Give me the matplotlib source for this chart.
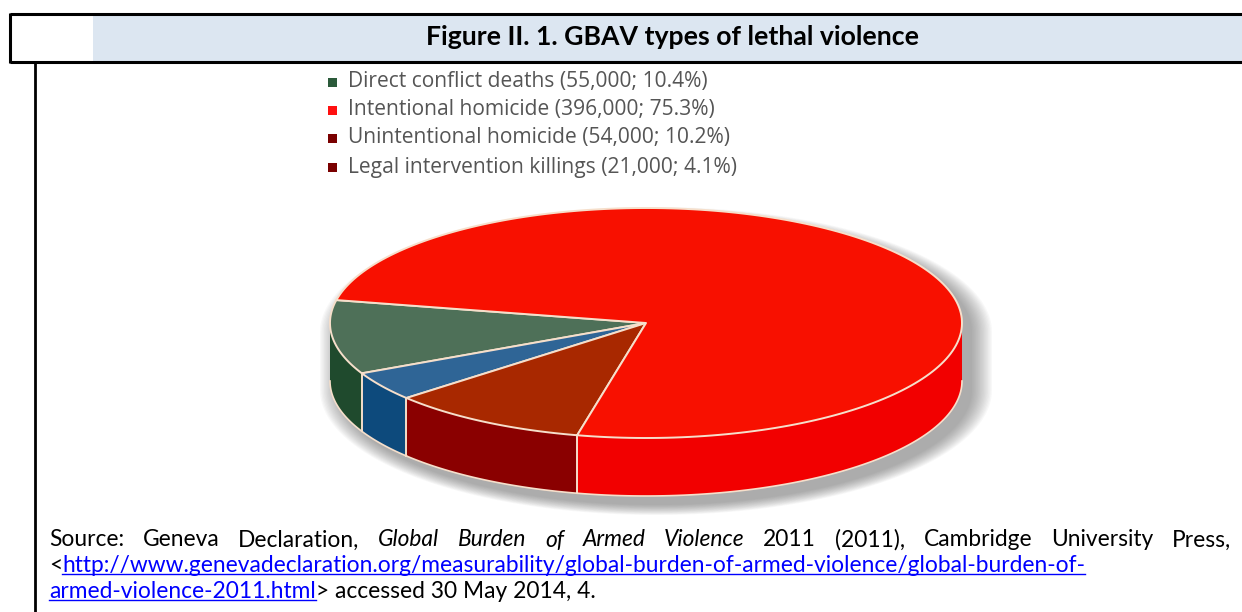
import numpy as np
import matplotlib
matplotlib.use("Agg")
import matplotlib.pyplot as plt
from matplotlib.patches import Polygon, Rectangle

# ---------------- data ----------------
title = "Figure II. 1. GBAV types of lethal violence"
categories = ["Direct conflict deaths", "Intentional homicide",
              "Unintentional homicide", "Legal intervention killings"]
deaths = [55000, 396000, 54000, 21000]
shares = [10.4, 75.3, 10.2, 4.1]
legend_colors = ["#2b5a3a", "#ff1010", "#7a0000", "#7a0000"]
top_colors = ["#4e7058", "#f81000", "#a82800", "#2f6596"]
side_colors = ["#1f4a2d", "#f20000", "#8a0000", "#0d4a7c"]
pie_order = [0, 3, 2, 1]          # counter-clockwise order on the pie
start_angle = 168.5

source_line1 = [("Source:", "normal"), ("Geneva", "normal"), ("Declaration,", "normal"),
                ("Global", "italic"), ("Burden", "italic"), ("of", "italic"),
                ("Armed", "italic"), ("Violence", "italic"), ("2011", "normal"),
                ("(2011),", "normal"), ("Cambridge", "normal"), ("University", "normal"),
                ("Press,", "normal")]
link1 = "http://www.genevadeclaration.org/measurability/global-burden-of-armed-violence/global-burden-of-"
link2 = "armed-violence-2011.html"
tail = "> accessed 30 May 2014, 4."

# ---------------- figure ----------------
W, H = 1242, 612
fig = plt.figure(figsize=(W / 100, H / 100), dpi=100)
ax = fig.add_axes([0, 0, 1, 1])
ax.set_xlim(0, W)
ax.set_ylim(H, 0)
ax.axis("off")
renderer = fig.canvas.get_renderer()

def width_of(t):
    return t.get_window_extent(renderer).width

# frame / title band
ax.add_patch(Rectangle((93, 15), W - 93, 46, facecolor="#dce6f1", edgecolor="none", zorder=1))
ax.plot([10, W], [14, 14], color="black", lw=2.2, solid_capstyle="butt", zorder=3)
ax.plot([10, W], [62, 62], color="black", lw=2.2, solid_capstyle="butt", zorder=3)
ax.plot([10, 10], [13, 63], color="black", lw=2.2, solid_capstyle="butt", zorder=3)
ax.plot([35, 35], [62, H], color="black", lw=2.0, solid_capstyle="butt", zorder=3)

tt = ax.text(672, 37, title, ha="center", va="center", fontsize=15,
             fontweight="bold", family=["Lato", "DejaVu Sans"], color="black", zorder=4)
tt.set_fontsize(15 * 495 / width_of(tt))

# ---------------- 3D pie ----------------
cx, cy, a, b, depth = 646, 323, 316, 115, 58
edge = "#f6dfcb"

def ell(t_deg, dy=0.0, ga=0.0, gb=0.0, dx=0.0):
    t = np.radians(t_deg)
    return np.c_[cx + dx + (a + ga) * np.cos(t), cy + dy - (b + gb) * np.sin(t)]

# soft shadow towards lower right
for g in np.linspace(20, 0, 16):
    top = ell(np.linspace(0, 180, 120), dy=9, ga=g, gb=0.5 * g, dx=10)
    bot = ell(np.linspace(180, 360, 120), dy=9 + depth, ga=g, gb=0.5 * g, dx=10)
    ax.add_patch(Polygon(np.vstack([top, bot]), closed=True, facecolor="#5a5a5a",
                         edgecolor="none", alpha=0.04, zorder=5))

wedges = []
cur = start_angle
for i in pie_order:
    span = shares[i] / sum(shares) * 360.0
    wedges.append((i, cur, cur + span))
    cur += span

# side walls (front half only)
for i, t1, t2 in wedges:
    for lo_f, hi_f in [(180, 360), (540, 720)]:
        lo, hi = max(t1, lo_f), min(t2, hi_f)
        if hi <= lo:
            continue
        ts = np.linspace(lo, hi, 80)
        topa = ell(ts)
        bota = ell(ts[::-1], dy=depth)
        ax.add_patch(Polygon(np.vstack([topa, bota]), closed=True,
                             facecolor=side_colors[i], edgecolor="none", zorder=6))
        ax.plot(bota[:, 0], bota[:, 1], color=edge, lw=1.2, zorder=7)
        for tb in (t1, t2):
            if lo_f < tb < hi_f or lo_f < tb - 360 < hi_f or lo_f < tb + 360 < hi_f:
                p = ell([tb])[0]
                ax.plot([p[0], p[0]], [p[1], p[1] + depth], color=edge, lw=1.2, zorder=7)

# top faces
for i, t1, t2 in wedges:
    arc = ell(np.linspace(t1, t2, 200))
    pts = np.vstack([[cx, cy], arc])
    ax.add_patch(Polygon(pts, closed=True, facecolor=top_colors[i], edgecolor=edge,
                         lw=1.4, joinstyle="round", zorder=8))

# ---------------- legend ----------------
leg_y = [82, 110, 138, 167]
leg_font = ["Open Sans", "DejaVu Sans"]
fs = 12
for k, (name, d, s) in enumerate(zip(categories, deaths, shares)):
    y = leg_y[k]
    ax.add_patch(Rectangle((328, y - 4.5), 9, 9, facecolor=legend_colors[k],
                           edgecolor="none", zorder=9))
    t = ax.text(348, y, f"{name} ({d:,}; {s}%)", ha="left", va="center",
                fontsize=fs, family=leg_font, color="#555555", zorder=9)
    if k == 0:
        fs = fs * 359 / width_of(t)
        t.set_fontsize(fs)

# ---------------- source text ----------------
src_font = ["Lato", "DejaVu Sans"]
x0, x1 = 49, 1231
y1, y2, y3 = 540, 566, 592
blue = "#0000ff"

# line 2 sets the font size
lt = ax.text(x0, y2, "<", ha="left", va="center", fontsize=14, family=src_font, color="black", zorder=9)
lk = ax.text(x0, y2, link1, ha="left", va="center", fontsize=14, family=src_font, color=blue, zorder=9)
sfs = 14 * (1087 - x0) / (width_of(lt) + width_of(lk))
lt.set_fontsize(sfs)
lk.set_fontsize(sfs)
lt_w = width_of(lt)
lk.set_x(x0 + lt_w)
ext = lk.get_window_extent(renderer)
ax.plot([x0 + lt_w, x0 + lt_w + ext.width], [y2 + 8, y2 + 8], color=blue, lw=1.0, zorder=9)

# line 1 justified
objs = []
for word, style in source_line1:
    objs.append(ax.text(0, y1, word, ha="left", va="center", fontsize=sfs, style=style,
                        family=src_font, color="black", zorder=9))
ws = [width_of(o) for o in objs]
gap = ((x1 - x0) - sum(ws)) / (len(objs) - 1)
x = x0
for o, w in zip(objs, ws):
    o.set_x(x)
    x += w + gap

# line 3
l3 = ax.text(x0, y3, link2, ha="left", va="center", fontsize=sfs, family=src_font, color=blue, zorder=9)
w3 = width_of(l3)
ax.plot([x0, x0 + w3], [y3 + 8, y3 + 8], color=blue, lw=1.0, zorder=9)
ax.text(x0 + w3, y3, tail, ha="left", va="center", fontsize=sfs, family=src_font, color="black", zorder=9)

fig.savefig("out.png", dpi=100)
